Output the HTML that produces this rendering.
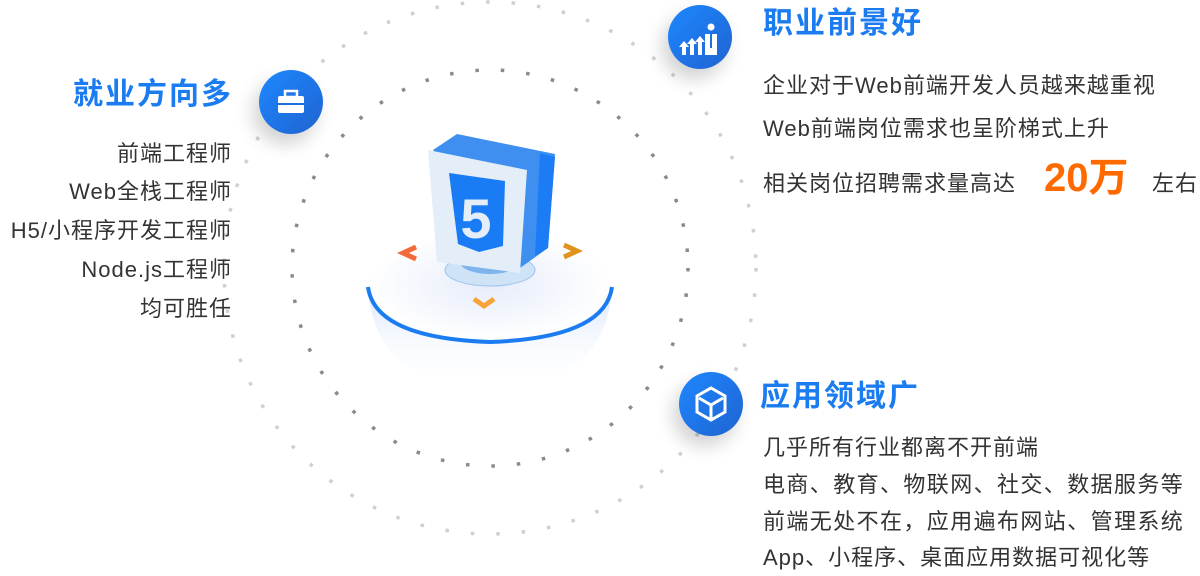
<!DOCTYPE html>
<html><head><meta charset="utf-8"><style>
html,body{margin:0;padding:0;background:#fff;}
body{width:1200px;height:576px;position:relative;overflow:hidden;font-family:"Liberation Sans","Noto Sans CJK SC",sans-serif;}
.t{position:absolute;white-space:nowrap;color:#333;font-size:22px;letter-spacing:1px;line-height:1;}
.h{position:absolute;white-space:nowrap;color:#1a7cf0;font-size:30px;font-weight:bold;letter-spacing:2px;line-height:1;}
.ic{position:absolute;width:64px;height:64px;border-radius:50%;background:linear-gradient(135deg,#1e88ff,#1f63d0);box-shadow:-6px 10px 18px rgba(0,0,0,0.18);}
</style></head><body>
<svg width="1200" height="576" style="position:absolute;left:0;top:0">
<defs>
<linearGradient id="bowl" x1="0" y1="0" x2="0" y2="1"><stop offset="0" stop-color="#d6e4fb"/><stop offset="1" stop-color="#ffffff" stop-opacity="0"/></linearGradient>
<radialGradient id="disk" cx="0.5" cy="0.5" r="0.5"><stop offset="0" stop-color="#e6ecfa"/><stop offset="1" stop-color="#ffffff"/></radialGradient>
</defs>
<circle cx="490" cy="268" r="266" fill="none" stroke="#d0d0d0" stroke-width="3.5" stroke-dasharray="3.5 22"/>
<circle cx="490" cy="268" r="198" fill="none" stroke="#8a8a8a" stroke-width="3.5" stroke-dasharray="3.5 22"/>
<path d="M368 285 Q372 385 490 390 Q608 385 612 285 Z" fill="url(#bowl)"/>
<ellipse cx="490" cy="285" rx="122" ry="55" fill="url(#disk)"/>
<path d="M368 287 Q375 338 490 342 Q605 338 612 287" fill="none" stroke="#1a7cf0" stroke-width="4"/>
<ellipse cx="490" cy="270" rx="45" ry="16" fill="#cfe3f7" stroke="#9cc3ef"/>
<ellipse cx="490" cy="262" rx="30" ry="12" fill="#7fb3ec"/>
<polygon points="433,150 457,134 555,154 548,248 520,268" fill="#3f8ff0"/>
<polygon points="540,153 555,157 548,248 535,256" fill="#1b7cf5"/>
<polygon points="428,150 527,170 520,273 437,262" fill="#e3eef9"/>
<polygon points="449,173 505,181 503,246 479,252 458,244" fill="#1a7cf5"/>
<text x="476" y="238" font-family="Liberation Sans" font-weight="bold" font-size="56" fill="#e3eef9" text-anchor="middle">5</text>
<polyline points="416,247 403,253 416,259" fill="none" stroke="#f06a3a" stroke-width="5"/>
<polyline points="564,245 577,251 564,257" fill="none" stroke="#e0921e" stroke-width="5"/>
<polyline points="474,299 484,306 494,299" fill="none" stroke="#f8a23a" stroke-width="5"/>
</svg>

<div class="ic" style="left:259px;top:70px"><svg width="64" height="64"><rect x="19" y="26" width="26" height="17" rx="2" fill="#fff"/><rect x="26" y="21" width="12" height="6" fill="none" stroke="#fff" stroke-width="2.5"/><rect x="19" y="33" width="26" height="2" fill="#1f6fe0"/></svg></div>
<div class="ic" style="left:668px;top:5px"><svg width="64" height="64"><path d="M14 50v-8h-3l5-6 5 6h-3v8zM22 50v-11h-3l5-6 5 6h-3v11zM30 50v-13h-3l5-6 5 6h-3v13z" fill="#fff"/><circle cx="43" cy="22" r="3.5" fill="#fff"/><path d="M37 50V29h12v21z" fill="#fff"/><path d="M43 29v14" stroke="#1f6fe0" stroke-width="2"/></svg></div>
<div class="ic" style="left:679px;top:372px"><svg width="64" height="64"><polygon points="32,16 46,24 46,40 32,48 18,40 18,24" fill="none" stroke="#fff" stroke-width="3"/><path d="M20 26l12 7 12-7M32 33v14" stroke="#fff" stroke-width="3" fill="none"/></svg></div>

<div class="h" style="left:73px;top:80px">就业方向多</div>
<div class="t" style="right:968px;top:143px">前端工程师</div>
<div class="t" style="right:968px;top:181px">Web全栈工程师</div>
<div class="t" style="right:968px;top:220px">H5/小程序开发工程师</div>
<div class="t" style="right:968px;top:259px">Node.js工程师</div>
<div class="t" style="right:968px;top:298px">均可胜任</div>

<div class="h" style="left:763px;top:9px">职业前景好</div>
<div class="t" style="left:763px;top:75px">企业对于Web前端开发人员越来越重视</div>
<div class="t" style="left:763px;top:118px">Web前端岗位需求也呈阶梯式上升</div>
<div class="t" style="left:763px;top:173px">相关岗位招聘需求量高达</div>
<div style="position:absolute;left:1044px;top:158px;font-size:40px;font-weight:bold;color:#ff6a00;line-height:1;white-space:nowrap">20万</div>
<div class="t" style="left:1152px;top:173px">左右</div>

<div class="h" style="left:760px;top:382px">应用领域广</div>
<div class="t" style="left:763px;top:437px">几乎所有行业都离不开前端</div>
<div class="t" style="left:763px;top:474px;letter-spacing:1.4px">电商、教育、物联网、社交、数据服务等</div>
<div class="t" style="left:763px;top:511px;letter-spacing:1.4px">前端无处不在，应用遍布网站、管理系统</div>
<div class="t" style="left:763px;top:547px">App、小程序、桌面应用数据可视化等</div>
</body></html>
